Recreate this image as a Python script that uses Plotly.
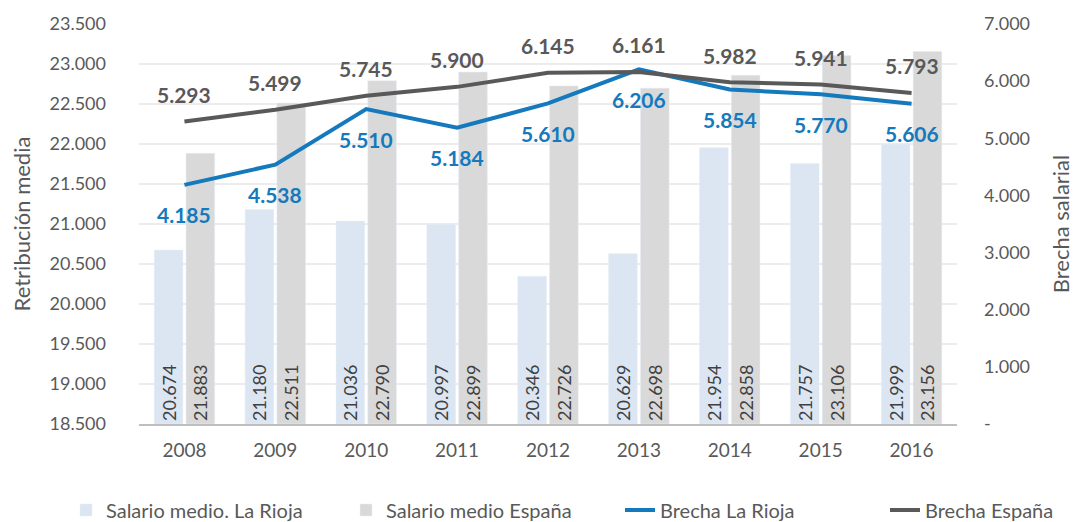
import plotly.graph_objects as go

years = ["2008", "2009", "2010", "2011", "2012", "2013", "2014", "2015", "2016"]
salario_rioja = [20674, 21180, 21036, 20997, 20346, 20629, 21954, 21757, 21999]
salario_espana = [21883, 22511, 22790, 22899, 22726, 22698, 22858, 23106, 23156]
brecha_rioja = [4185, 4538, 5510, 5184, 5610, 6206, 5854, 5770, 5606]
brecha_espana = [5293, 5499, 5745, 5900, 6145, 6161, 5982, 5941, 5793]

left_ticks = list(range(18500, 24000, 500))
right_ticks = [0, 1000, 2000, 3000, 4000, 5000, 6000, 7000]
BASE = 18500  # bottom of the left axis; bars start here so labels sit at the bottom

FONT = "Lato"
TXT = "#595959"
BLUE = "#1479bd"
DARK = "#595959"

# page body adds an 8px margin, so the figure is drawn 8px smaller
W, H = 1070, 514


def fmt(v):
    return f"{v:,}".replace(",", ".")


fig = go.Figure()

fig.add_trace(go.Bar(x=years, y=[v - BASE for v in salario_rioja], base=BASE,
                     name="Salario medio. La Rioja", legend="legend",
                     marker_color="#dce6f2", text=[fmt(v) for v in salario_rioja],
                     textposition="inside", insidetextanchor="start", textangle=-90,
                     textfont=dict(color="#404040", size=18, family=FONT)))
fig.add_trace(go.Bar(x=years, y=[v - BASE for v in salario_espana], base=BASE,
                     name="Salario medio España", legend="legend2",
                     marker_color="#d9d9d9", text=[fmt(v) for v in salario_espana],
                     textposition="inside", insidetextanchor="start", textangle=-90,
                     textfont=dict(color="#404040", size=18, family=FONT)))
fig.add_trace(go.Scatter(x=years, y=brecha_rioja, name="Brecha La Rioja", yaxis="y2",
                         legend="legend3", mode="lines", line=dict(color=BLUE, width=4)))
fig.add_trace(go.Scatter(x=years, y=brecha_espana, name="Brecha España", yaxis="y2",
                         legend="legend4", mode="lines", line=dict(color=DARK, width=4)))

# data labels for the two lines (x given as category index)
for i, v in enumerate(brecha_rioja):
    fig.add_annotation(x=i, y=v, xref="x", yref="y2", text=f"<b>{fmt(v)}</b>", showarrow=False,
                       yshift=-30, font=dict(color=BLUE, size=21, family=FONT))
for i, v in enumerate(brecha_espana):
    fig.add_annotation(x=i, y=v, xref="x", yref="y2", text=f"<b>{fmt(v)}</b>", showarrow=False,
                       yshift=27, font=dict(color=DARK, size=21, family=FONT))

leg = dict(orientation="h", xref="container", yref="container", y=12 / H,
           yanchor="middle", xanchor="left", font=dict(size=20, color=TXT),
           bgcolor="rgba(0,0,0,0)")

fig.update_layout(
    width=W, height=H,
    margin=dict(l=131, r=121, t=16, b=98, autoexpand=False),
    plot_bgcolor="white", paper_bgcolor="white",
    barmode="group", bargap=0.3, bargroupgap=0.1,
    font=dict(family=FONT, color=TXT, size=18),
    xaxis=dict(type="category", range=[-0.5, len(years) - 0.5], showgrid=False, showline=True,
               linecolor="#bfbfbf", linewidth=1.5, ticks="outside", ticklen=8,
               tickcolor="rgba(0,0,0,0)", tickfont=dict(size=19, color=TXT)),
    yaxis=dict(range=[18500, 23500], tickvals=left_ticks, ticktext=[fmt(v) for v in left_ticks],
               showgrid=True, gridcolor="#ececec", gridwidth=1.5, zeroline=False,
               ticklabelstandoff=32, tickfont=dict(size=18, color=TXT),
               title=dict(text="Retribución media", font=dict(size=22, color=TXT), standoff=24)),
    yaxis2=dict(range=[0, 7000], overlaying="y", side="right", tickvals=right_ticks,
                ticktext=["-"] + [fmt(v) for v in right_ticks[1:]], showgrid=False, zeroline=False,
                ticklabelstandoff=26, tickfont=dict(size=18, color=TXT),
                title=dict(text="Brecha salarial", font=dict(size=22, color=TXT), standoff=24)),
    legend=dict(leg, x=58 / W),
    legend2=dict(leg, x=338 / W),
    legend3=dict(leg, x=612 / W),
    legend4=dict(leg, x=877 / W),
    showlegend=True,
)

fig.write_html("out.html")
